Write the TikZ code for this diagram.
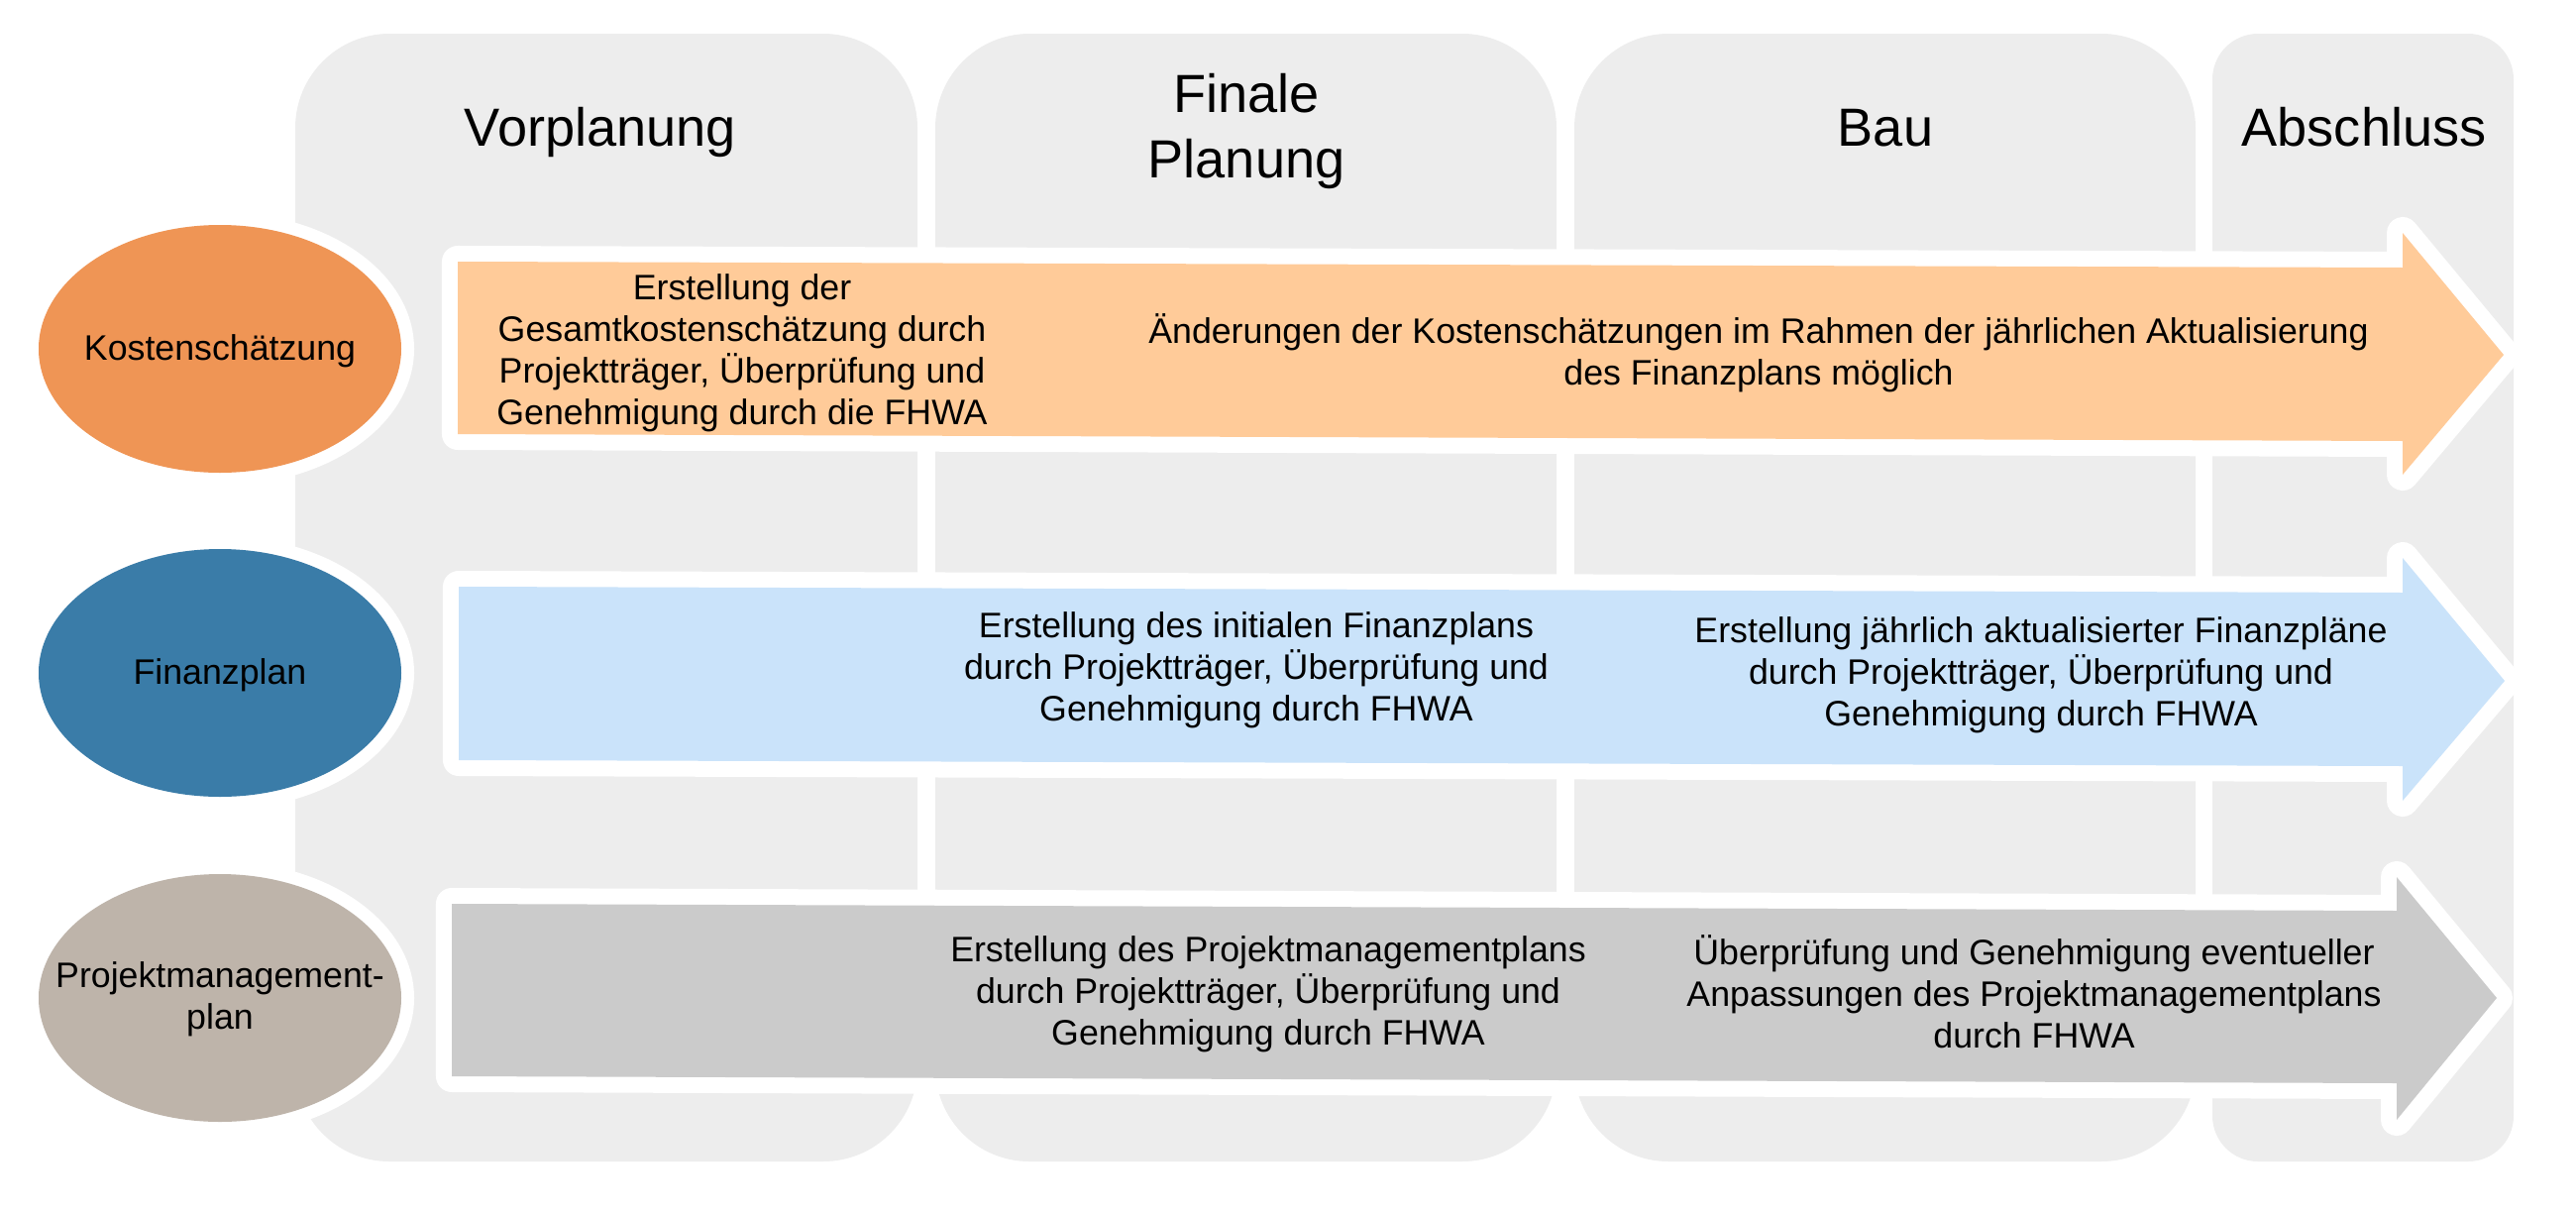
\documentclass[tikz,border=0pt]{standalone}
\usepackage{fontspec}
\setmainfont{Liberation Sans}
\definecolor{colbg}{HTML}{EDEDED}
\definecolor{kostdark}{HTML}{EF9555}
\definecolor{kostlight}{HTML}{FFCB99}
\definecolor{findark}{HTML}{3A7CA8}
\definecolor{finlight}{HTML}{CAE3FA}
\definecolor{pmpdark}{HTML}{BEB4AA}
\definecolor{pmplight}{HTML}{CBCBCB}
\newcommand{\txtfont}{\fontsize{10.16pt}{11.87pt}\selectfont}
\newcommand{\hdfont}{\fontsize{15.4pt}{18.5pt}\selectfont}

\begin{document}
\begin{tikzpicture}[x=0.01cm, y=-0.01cm,
    phase/.style={fill=colbg, rounded corners=0.95cm},
    band/.style={fill=#1, preaction={draw=white, line width=3.2mm, line join=round}},
    topic/.style={fill=#1, preaction={draw=white, line width=2.6mm}},
    head/.style={anchor=base, align=center, inner sep=0pt, font=\hdfont},
    note/.style={anchor=base, align=center, inner sep=0pt, font=\txtfont}]
      \useasboundingbox (0,0) rectangle (2600,1224);

      \fill[phase] (298,34) rectangle (926,1172);
      \fill[phase] (944,34) rectangle (1571,1172);
      \fill[phase] (1589,34) rectangle (2216,1172);
      \fill[phase, rounded corners=0.46cm] (2233,34) rectangle (2537,1172);

      \node[head] (vorplanung) at (606,147) {Vorplanung};
      \node[head] (finale) at (1258,179) {Finale\\Planung};
      \node[head] (bau) at (1903,147) {Bau};
      \node[head] (abschluss) at (2386,147) {Abschluss};

      \fill[band=kostlight] (462,264) -- (2425,270) -- (2425,235) -- (2527,358) -- (2425,479) -- (2425,445) -- (462,438) -- cycle;
      \fill[band=finlight] (463,592) -- (2425,598) -- (2425,563) -- (2528,687) -- (2425,808) -- (2425,773) -- (463,767) -- cycle;
      \fill[band=pmplight] (456,912) -- (2419,919) -- (2419,885) -- (2520,1007) -- (2419,1130) -- (2419,1093) -- (456,1086) -- cycle;

      \path[topic=kostdark] (222,352) ellipse [x radius=183, y radius=125];
      \path[topic=findark] (222,679) ellipse [x radius=183, y radius=125];
      \path[topic=pmpdark] (222,1007) ellipse [x radius=183, y radius=125];

      \node[note] (kosten) at (222,363) {Kostenschätzung};
      \node[note] (finanz) at (222,690) {Finanzplan};
      \node[note] (pmp) at (222,1038) {Projektmanagement-\\plan};

      \node[note] (kosten1) at (749,428) {Erstellung der\\Gesamtkostenschätzung durch\\Projektträger, Überprüfung und\\Genehmigung durch die FHWA};
      \node[note] (kosten2) at (1775,388) {Änderungen der Kostenschätzungen im Rahmen der jährlichen Aktualisierung\\des Finanzplans möglich};
      \node[note] (finanz1) at (1268,727) {Erstellung des initialen Finanzplans\\durch Projektträger, Überprüfung und\\Genehmigung durch FHWA};
      \node[note] (finanz2) at (2060,732) {Erstellung jährlich aktualisierter Finanzpläne\\durch Projektträger, Überprüfung und\\Genehmigung durch FHWA};
      \node[note] (pmp1) at (1280,1054) {Erstellung des Projektmanagementplans\\durch Projektträger, Überprüfung und\\Genehmigung durch FHWA};
      \node[note] (pmp2) at (2053,1057) {Überprüfung und Genehmigung eventueller\\Anpassungen des Projektmanagementplans\\durch FHWA};
    \end{tikzpicture}
\end{document}
